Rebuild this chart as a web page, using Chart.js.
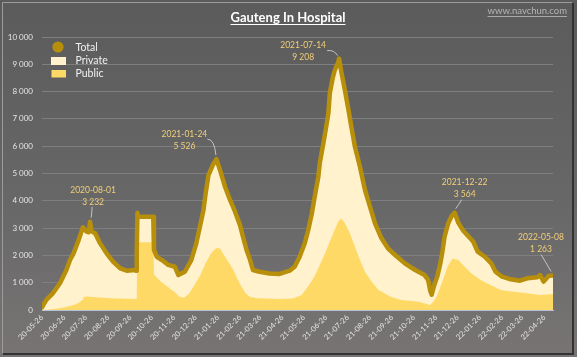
<!DOCTYPE html>
<html><head><meta charset="utf-8">
<script src="https://cdn.jsdelivr.net/npm/chart.js@4"></script>
<style>
html,body{margin:0;padding:0;background:#5e5e5e;}
canvas{display:block;}
</style></head><body>
<canvas id="c" width="577" height="357"></canvas>
<script>
// ---- data ----
const startDate = '2020-05-26';
const totalDays = [0,6,15,25,34,39,44,51,57,62,65,67,69,74,81,90,99,109,118,129,131,132,133,134,155,156,160,167,176,185,190,199,208,215,220,225,228,232,238,243,248,255,262,269,276,280,285,290,294,303,317,331,345,352,359,366,371,376,380,385,387,392,396,399,401,405,408,413,414,417,422,427,431,436,443,450,457,464,473,482,492,506,520,533,538,541,543,546,551,555,558,561,566,571,575,580,587,594,601,607,617,626,632,641,653,666,676,690,694,699,706,712];
const totalValues = [100,370,610,980,1465,1830,2075,2560,3030,2870,2850,3232,2880,2810,2440,2075,1770,1525,1440,1465,1440,2135,3560,3420,3420,2200,1950,1830,1650,1585,1280,1400,1830,2440,3050,3660,4270,4945,5310,5526,5130,4515,4030,3600,3100,2685,2200,1830,1465,1400,1340,1320,1440,1585,1950,2440,2930,3540,4150,4880,5370,6105,6715,7200,7940,8490,8790,9095,9208,8730,8060,7330,6715,5980,5250,4395,3785,3175,2625,2260,2015,1700,1465,1280,1100,700,560,860,1250,1700,2150,2700,3175,3450,3564,3200,2900,2700,2500,2135,1950,1710,1400,1220,1125,1075,1160,1200,1280,1040,1250,1263];
const publicDays = [0,15,25,35,44,50,57,58,62,81,95,116,132,133,155,156,165,175,185,192,198,205,212,220,228,236,243,248,254,260,266,272,278,284,290,300,330,350,362,373,380,387,394,401,408,413,417,422,429,436,443,450,459,469,485,500,525,541,545,550,557,565,572,580,589,598,611,625,639,657,676,694,712];
const publicValues = [0,30,60,120,180,250,380,480,490,460,430,410,400,2480,2480,1300,1050,850,650,480,450,600,900,1250,1710,2100,2270,2250,2000,1750,1500,1150,850,600,480,430,400,420,550,950,1250,1650,2050,2500,2950,3250,3360,3175,2810,2320,1830,1400,1040,730,490,370,305,180,300,490,980,1585,1890,1830,1585,1345,1100,915,730,670,610,550,585];
const tickLabels = ['20-05-26','20-06-26','20-07-26','20-08-26','20-09-26','20-10-26','20-11-26','20-12-26','21-01-26','21-02-26','21-03-26','21-04-26','21-05-26','21-06-26','21-07-26','21-08-26','21-09-26','21-10-26','21-11-26','21-12-26','22-01-26','22-02-26','22-03-26','22-04-26'];
const annotationDates = ['2020-08-01','2021-01-24','2021-07-14','2021-12-22','2022-05-08'];
const annotationValues = [3232,5526,9208,3564,1263];
const seriesNames = ['Total','Private','Public'];

// ---- helpers ----
const utc = s => Date.UTC(+s.slice(0,4), +s.slice(5,7)-1, +s.slice(8,10));
const dayOf = s => Math.round((utc(s) - utc(startDate)) / 86400000);
const tickDays = tickLabels.map(l => dayOf('20' + l));
const lastDay = totalDays[totalDays.length-1];
const fmt = v => String(v).replace(/\B(?=(\d{3})+(?!\d))/g, ' ');
const pts = (xs, ys) => xs.map((d,i) => ({x:d, y:ys[i]}));

const COL_TOTAL = '#b78f0b', COL_PRIV = '#fff2cc', COL_PUB = '#ffd966';
const FONT = 'Lato, "Open Sans", sans-serif';

// style of annotation placement (pixel offsets from the data point)
const annoStyle = [
  {tx:3,  ty:-32, l:[2,-15, 2,-10, 1,-4]},
  {tx:-32,ty:-25, l:[-9,-20, -2,-20, -0.5,-4]},
  {tx:-36,ty:-13, l:[-12,-8, -5,-9, -1.5,-3]},
  {tx:10, ty:-30, l:[7,-13, 4,-8, 1,-4]},
  {tx:-12,ty:-38, l:[-12,-21, -7,-13, -2,-4]}
];

const bgPlugin = {
  id:'bg',
  beforeDraw(chart){
    const c = chart.ctx, W = chart.width, H = chart.height;
    c.save();
    const g = c.createLinearGradient(0,0,0,H);
    g.addColorStop(0,'#5b5b5b'); g.addColorStop(0.55,'#676767'); g.addColorStop(1,'#787474');
    c.fillStyle = g; c.fillRect(0,0,W,H);
    c.restore();
  },
  afterDraw(chart){
    const c = chart.ctx, W = chart.width, H = chart.height;
    c.save();
    // frame
    c.strokeStyle = '#9c9c9c'; c.lineWidth = 1;
    c.beginPath(); c.moveTo(2.5,H-4); c.lineTo(2.5,2.5); c.lineTo(W-5,2.5); c.stroke();
    c.strokeStyle = '#333'; c.lineWidth = 2;
    c.beginPath(); c.moveTo(W-4,3); c.lineTo(W-4,H-3); c.lineTo(3,H-3); c.stroke();
    // title
    c.fillStyle = '#ffffff'; c.font = 'bold 13px ' + FONT;
    c.textAlign = 'center'; c.textBaseline = 'middle';
    const title = 'Gauteng In Hospital';
    c.fillText(title, 288, 17.5);
    const tw = c.measureText(title).width;
    c.strokeStyle = '#ffffff'; c.lineWidth = 1;
    c.beginPath(); c.moveTo(288 - tw/2, 24.5); c.lineTo(288 + tw/2, 24.5); c.stroke();
    // watermark
    c.fillStyle = '#b4b4b4'; c.font = '9.5px ' + FONT; c.textAlign = 'right';
    c.fillText('www.navchun.com', 567, 11);
    const ww = c.measureText('www.navchun.com').width;
    c.strokeStyle = '#a8a8a8'; c.beginPath(); c.moveTo(567-ww, 16.5); c.lineTo(567, 16.5); c.stroke();
    // legend
    const ds = chart.data.datasets;
    c.font = '10.5px ' + FONT; c.textAlign = 'left'; c.fillStyle = '#f0f0f0';
    c.fillStyle = ds[0].borderColor; c.beginPath(); c.arc(58, 47, 5.6, 0, Math.PI*2); c.fill();
    c.fillStyle = ds[1].backgroundColor; c.fillRect(51, 57, 15, 8);
    c.fillStyle = ds[2].backgroundColor; c.fillRect(51.5, 70, 14.5, 7.5);
    c.fillStyle = '#f0f0f0';
    c.fillText(ds[0].label, 75.5, 47.5);
    c.fillText(ds[1].label, 75.5, 61);
    c.fillText(ds[2].label, 75.5, 74);
    // annotations
    const xs = chart.scales.x, ys = chart.scales.y;
    c.font = '8.5px ' + FONT; c.textAlign = 'center';
    annotationDates.forEach((d,i) => {
      const px = xs.getPixelForValue(dayOf(d)), py = ys.getPixelForValue(annotationValues[i]);
      const s = annoStyle[i], l = s.l;
      c.strokeStyle = '#c4c4c4'; c.lineWidth = 1;
      c.beginPath(); c.moveTo(px+l[0], py+l[1]); c.quadraticCurveTo(px+l[2], py+l[3], px+l[4], py+l[5]); c.stroke();
      c.fillStyle = '#f2cf78';
      c.fillText(d, px+s.tx, py+s.ty);
      c.fillText(fmt(annotationValues[i]), px+s.tx, py+s.ty+12);
    });
    c.restore();
  }
};

new Chart(document.getElementById('c'), {
  type:'line',
  data:{
    datasets:[
      {label:seriesNames[0], data:pts(totalDays,totalValues), borderColor:COL_TOTAL, borderWidth:4.5,
       borderJoinStyle:'round', borderCapStyle:'round', pointRadius:0, fill:false, order:0},
      {label:seriesNames[1], data:pts(totalDays,totalValues), backgroundColor:COL_PRIV, borderColor:COL_PRIV,
       borderWidth:0, pointRadius:0, fill:'origin', order:2},
      {label:seriesNames[2], data:pts(publicDays,publicValues), backgroundColor:COL_PUB, borderColor:COL_PUB,
       borderWidth:0, pointRadius:0, fill:'origin', order:1}
    ]
  },
  options:{
    responsive:false, animation:false, devicePixelRatio:1,
    layout:{padding:{top:37, right:24, left:0, bottom:0}},
    plugins:{legend:{display:false}, tooltip:{enabled:false}, title:{display:false}},
    scales:{
      x:{type:'linear', min:0, max:lastDay,
        grid:{drawOnChartArea:false, drawTicks:false},
        border:{display:true, color:'#b6c2dc', width:1},
        afterBuildTicks(s){ s.ticks = tickDays.map(v => ({value:v})); },
        afterFit(s){ s.height = 47; s.paddingLeft = 0; s.paddingRight = 0; },
        ticks:{autoSkip:false, maxRotation:45, minRotation:45, padding:3, color:'#e6e6e6',
          font:{family:FONT, size:7.5},
          callback(v){ const i = tickDays.indexOf(v); return i >= 0 ? tickLabels[i] : ''; }}
      },
      y:{min:0, max:10000,
        grid:{color:'#7f7f7f', lineWidth:1, drawTicks:false},
        border:{display:false},
        afterFit(s){ s.width = 42; },
        ticks:{stepSize:1000, padding:9, color:'#e6e6e6', font:{family:FONT, size:8},
          callback(v){ return fmt(v); }}
      }
    }
  },
  plugins:[bgPlugin]
});
</script>
</body></html>
